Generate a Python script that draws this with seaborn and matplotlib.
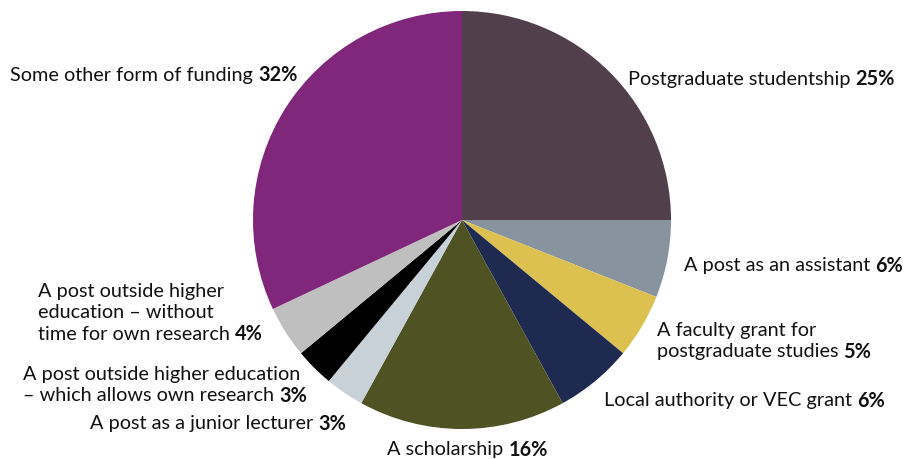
import matplotlib
matplotlib.use("Agg")
import matplotlib.pyplot as plt
import seaborn as sns

# Sources of funding for doctoral studies (share of respondents, %)
categories = [
    "Postgraduate studentship",
    "A post as an assistant",
    "A faculty grant for\npostgraduate studies",
    "Local authority or VEC grant",
    "A scholarship",
    "A post as a junior lecturer",
    "A post outside higher education\n\u2013 which allows own research",
    "A post outside higher\neducation \u2013 without\ntime for own research",
    "Some other form of funding",
]
shares = [25, 6, 5, 6, 16, 3, 3, 4, 32]
colors = ["#523f4c", "#87939e", "#dcc150", "#1e2a4f", "#4f5223",
          "#c8d0d8", "#000000", "#bfbfbf", "#80277c"]

# label anchor (left x, first-line centre y) in pixels from top-left
label_pos = [
    (628, 79), (684, 266), (657, 331), (604, 401), (387, 450),
    (90, 424), (23, 375), (38, 292), (10, 75),
]

sns.set_theme(style="white")
plt.rcParams["font.family"] = ["Lato", "DejaVu Sans"]

W, H = 907, 460
fig = plt.figure(figsize=(W / 100, H / 100), dpi=100)
fig.patch.set_facecolor("white")

cx, cy, r = 462, 221, 209
ax = fig.add_axes([(cx - r) / W, (H - cy - r) / H, 2 * r / W, 2 * r / H])
ax.pie(shares, colors=colors, startangle=90, counterclock=False, radius=1,
       wedgeprops=dict(linewidth=0))
ax.set_xlim(-1, 1)
ax.set_ylim(-1, 1)
ax.set_aspect("equal")
ax.axis("off")

renderer = fig.canvas.get_renderer()
fs = 14.3
line_h = 21
for name, val, (x, y) in zip(categories, shares, label_pos):
    lines = name.split("\n")
    last = None
    for i, line in enumerate(lines):
        yy = y + i * line_h
        last = fig.text(x / W, 1 - yy / H, line, fontsize=fs, color="#111111",
                        ha="left", va="center")
    bb = last.get_window_extent(renderer)
    fig.text((bb.x1 + 5) / W, last.get_position()[1], f"{val}%",
             fontsize=fs, fontweight="bold", color="#111111",
             ha="left", va="center")

fig.savefig("out.png", dpi=100)
